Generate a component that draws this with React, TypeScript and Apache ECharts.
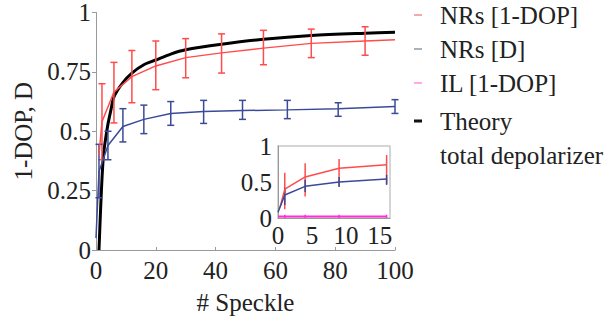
import React, { useEffect, useRef } from "react";
import * as echarts from "echarts";

// ---- main panel data ----
const nrsDopX = [1, 2, 6, 12, 20, 30, 42, 56, 72, 90, 100];
const nrsDopY = [0.4, 0.54, 0.665, 0.73, 0.775, 0.81, 0.83, 0.85, 0.87, 0.88, 0.885];
const nrsDopErrX = [2, 6, 12, 20, 30, 42, 56, 72, 90];
const nrsDopErrLo = [0.38, 0.535, 0.62, 0.675, 0.725, 0.745, 0.78, 0.81, 0.82];
const nrsDopErrHi = [0.7, 0.79, 0.84, 0.88, 0.89, 0.91, 0.925, 0.93, 0.94];

const nrsDX = [0, 1, 4, 9, 16, 25, 36, 49, 64, 81, 100];
const nrsDY = [0.05, 0.33, 0.44, 0.52, 0.55, 0.575, 0.583, 0.587, 0.59, 0.595, 0.604];
const nrsDErrX = [1, 4, 9, 16, 25, 36, 49, 64, 81, 100];
const nrsDErrLo = [0.22, 0.38, 0.455, 0.49, 0.525, 0.533, 0.55, 0.553, 0.563, 0.575];
const nrsDErrHi = [0.445, 0.5, 0.595, 0.61, 0.625, 0.63, 0.63, 0.63, 0.62, 0.633];

const theoryX = [1, 1.5, 2, 2.5, 3, 4, 5, 6, 9, 12, 16, 20, 25, 30, 42, 56, 72, 90, 100];
const theoryY = [0, 0.16, 0.3, 0.4, 0.45, 0.53, 0.59, 0.645, 0.705, 0.745, 0.78, 0.8, 0.825, 0.843, 0.866, 0.887, 0.903, 0.913, 0.917];

// ---- inset data ----
const inRedX = [0.3, 1, 4, 9, 16];
const inRedY = [0.15, 0.4, 0.57, 0.69, 0.74];
const inErrX = [1, 4, 9, 16];
const inRedLo = [0.12, 0.3, 0.44, 0.47];
const inRedHi = [0.63, 0.76, 0.82, 0.875];
const inBlueX = [0, 1, 4, 9, 16];
const inBlueY = [0.08, 0.32, 0.44, 0.5, 0.54];
const inBlueLo = [0.18, 0.36, 0.43, 0.46];
const inBlueHi = [0.42, 0.53, 0.57, 0.6];
const inILX = [0, 1, 4, 9, 16];
const inILY = [0.02, 0.02, 0.02, 0.02, 0.02];
const inILLo = [0.0, 0.0, 0.0, 0.0];
const inILHi = [0.045, 0.045, 0.045, 0.045];

// ---- ticks / labels ----
const mainXTicks = [0, 20, 40, 60, 80, 100];
const legendNames = ["NRs [1-DOP]", "NRs [D]", "IL [1-DOP]", "Theory"];
const legendExtra = "total depolarizer";

const FONT = "Liberation Serif";
const FS = 25;
const RED = "#ff4b4b";
const BLUE = "#3b4a98";
const MAGENTA = "#ff2fd8";
const legendColors = ["#f48a8a", "#8d9aa6", "#ff8be8", "#111"];
const legendY = [15, 49, 83, 121, 155];

const zip = (xs: number[], ys: number[]) => xs.map((x, i) => [x, ys[i]]);
const zip3 = (xs: number[], a: number[], b: number[]) => xs.map((x, i) => [x, a[i], b[i]]);

function errorBar(color: string, cap: number, width: number) {
  return (params: any, api: any) => {
    const x = api.value(0);
    const lo = api.coord([x, api.value(1)]);
    const hi = api.coord([x, api.value(2)]);
    const style = { stroke: color, lineWidth: width };
    const children: any[] = [
      { type: "line", shape: { x1: lo[0], y1: lo[1], x2: hi[0], y2: hi[1] }, style },
    ];
    if (cap > 0) {
      children.push({ type: "line", shape: { x1: lo[0] - cap, y1: lo[1], x2: lo[0] + cap, y2: lo[1] }, style });
      children.push({ type: "line", shape: { x1: hi[0] - cap, y1: hi[1], x2: hi[0] + cap, y2: hi[1] }, style });
    }
    return { type: "group", children };
  };
}

function buildOption() {
  const labelStyle = { fontFamily: FONT, fontSize: FS, color: "#222" };
  const axisLine = { show: true, lineStyle: { color: "#9a9a9a", width: 1 } };

  const graphic: any[] = [];
  legendNames.forEach((n, i) => {
    graphic.push({
      type: "line",
      shape: { x1: 414, y1: legendY[i], x2: 422, y2: legendY[i] },
      style: { stroke: legendColors[i], lineWidth: i === 3 ? 3 : 1.5 },
    });
    graphic.push({
      type: "text", x: 440, y: legendY[i],
      style: { text: n, fontFamily: FONT, fontSize: FS, fill: "#222", verticalAlign: "middle", align: "left" },
    });
  });
  graphic.push({
    type: "text", x: 440, y: legendY[4],
    style: { text: legendExtra, fontFamily: FONT, fontSize: FS, fill: "#222", verticalAlign: "middle", align: "left" },
  });

  return {
    animation: false,
    backgroundColor: "#fff",
    textStyle: { fontFamily: FONT },
    grid: [
      { left: 96, top: 10, width: 299, height: 240 },
      { left: 278, top: 146, width: 112, height: 72, show: true, backgroundColor: "#fff", borderColor: "#c8c8c8", borderWidth: 1.5, z: 5 },
    ],
    xAxis: [
      {
        type: "value", gridIndex: 0, min: 0, max: 100, interval: 20,
        name: "# Speckle", nameLocation: "middle", nameGap: 40,
        nameTextStyle: { fontFamily: FONT, fontSize: FS, color: "#222" },
        axisLine, axisTick: { show: true, inside: true, length: 3, lineStyle: { color: "#9a9a9a" } },
        axisLabel: { ...labelStyle, margin: 8, customValues: mainXTicks },
        splitLine: { show: false },
      },
      {
        type: "value", gridIndex: 1, min: 0, max: 16.5, interval: 5, z: 5,
        axisLine, axisTick: { show: false },
        axisLabel: { ...labelStyle, margin: 5, showMaxLabel: false },
        splitLine: { show: false },
      },
    ],
    yAxis: [
      {
        type: "value", gridIndex: 0, min: 0, max: 1, interval: 0.25,
        name: "1-DOP, D", nameLocation: "middle", nameGap: 60,
        nameTextStyle: { fontFamily: FONT, fontSize: FS, color: "#222" },
        axisLine, axisTick: { show: true, length: 4, lineStyle: { color: "#9a9a9a" } },
        axisLabel: { ...labelStyle, margin: 5 },
        splitLine: { show: false },
      },
      {
        type: "value", gridIndex: 1, min: 0, max: 1, interval: 0.5, z: 5,
        axisLine, axisTick: { show: false },
        axisLabel: { ...labelStyle, margin: 6 },
        splitLine: { show: false },
      },
    ],
    graphic,
    series: [
      {
        name: "Theory", type: "line", xAxisIndex: 0, yAxisIndex: 0, data: zip(theoryX, theoryY),
        showSymbol: false, smooth: 0.3, lineStyle: { color: "#000", width: 3 }, itemStyle: { color: "#000" }, z: 2,
      },
      {
        name: "NRs [1-DOP]", type: "line", xAxisIndex: 0, yAxisIndex: 0, data: zip(nrsDopX, nrsDopY),
        showSymbol: false, lineStyle: { color: RED, width: 1.5 }, itemStyle: { color: RED }, z: 3,
      },
      {
        name: "NRs [1-DOP] err", type: "custom", xAxisIndex: 0, yAxisIndex: 0,
        data: zip3(nrsDopErrX, nrsDopErrLo, nrsDopErrHi), encode: { x: 0, y: [1, 2] },
        renderItem: errorBar(RED, 3.5, 1.5), z: 3,
      },
      {
        name: "NRs [D]", type: "line", xAxisIndex: 0, yAxisIndex: 0, data: zip(nrsDX, nrsDY),
        showSymbol: false, lineStyle: { color: BLUE, width: 1.5 }, itemStyle: { color: BLUE }, z: 3,
      },
      {
        name: "NRs [D] err", type: "custom", xAxisIndex: 0, yAxisIndex: 0,
        data: zip3(nrsDErrX, nrsDErrLo, nrsDErrHi), encode: { x: 0, y: [1, 2] },
        renderItem: errorBar(BLUE, 3.5, 1.5), z: 3,
      },
      // inset
      {
        name: "inset IL", type: "line", xAxisIndex: 1, yAxisIndex: 1, data: zip(inILX, inILY),
        showSymbol: false, lineStyle: { color: MAGENTA, width: 2 }, z: 6,
      },
      {
        name: "inset IL err", type: "custom", xAxisIndex: 1, yAxisIndex: 1,
        data: zip3(inErrX, inILLo, inILHi), encode: { x: 0, y: [1, 2] },
        renderItem: errorBar(MAGENTA, 0, 1.5), z: 6,
      },
      {
        name: "inset red", type: "line", xAxisIndex: 1, yAxisIndex: 1, data: zip(inRedX, inRedY),
        showSymbol: false, lineStyle: { color: RED, width: 1.5 }, z: 6,
      },
      {
        name: "inset red err", type: "custom", xAxisIndex: 1, yAxisIndex: 1,
        data: zip3(inErrX, inRedLo, inRedHi), encode: { x: 0, y: [1, 2] },
        renderItem: errorBar(RED, 0, 1.5), z: 6,
      },
      {
        name: "inset blue", type: "line", xAxisIndex: 1, yAxisIndex: 1, data: zip(inBlueX, inBlueY),
        showSymbol: false, lineStyle: { color: BLUE, width: 1.5 }, z: 6,
      },
      {
        name: "inset blue err", type: "custom", xAxisIndex: 1, yAxisIndex: 1,
        data: zip3(inErrX, inBlueLo, inBlueHi), encode: { x: 0, y: [1, 2] },
        renderItem: errorBar(BLUE, 0, 1.5), z: 6,
      },
    ],
  };
}

export default function App() {
  const ref = useRef<HTMLDivElement>(null);
  useEffect(() => {
    if (!ref.current) return;
    const chart = echarts.init(ref.current, null, { renderer: "svg" });
    chart.setOption(buildOption());
    return () => chart.dispose();
  }, []);
  return <div ref={ref} style={{ position: "fixed", left: 0, top: 0, width: 616, height: 329 }} />;
}
